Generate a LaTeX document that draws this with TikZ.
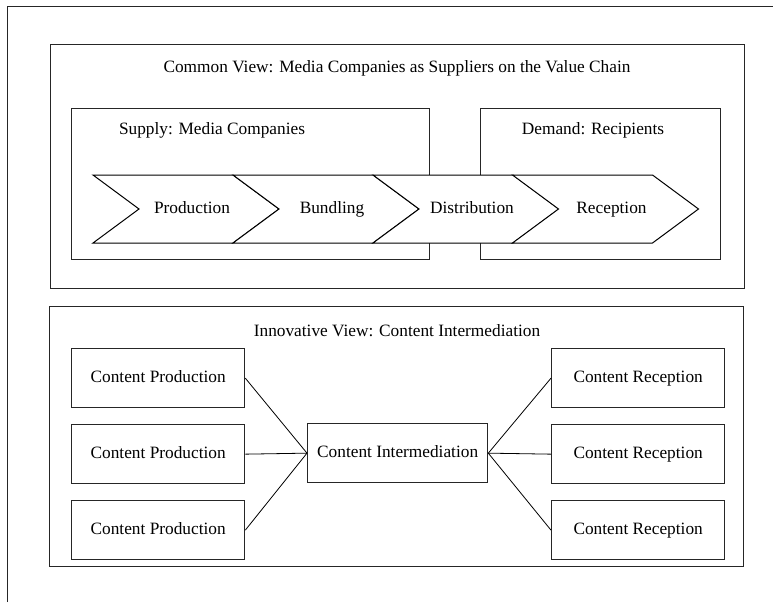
\documentclass[tikz,border=0pt]{standalone}
\usepackage{fontspec}
\setmainfont{Liberation Serif}
\begin{document}
\begin{tikzpicture}[x=1pt,y=-1pt,
  every node/.style={font=\fontsize{17.3}{20}\selectfont, inner sep=0pt},
  lbl/.style={text height=12.2pt, text depth=3.8pt},
  frame/.style={draw=black!85, line width=1.3pt},
  box/.style={draw=black!85, line width=1.3pt, fill=white, anchor=north west},
  chev/.style={draw=black, line width=1pt, fill=white},
  link/.style={draw=black, line width=0.8pt}]
\useasboundingbox (0,0) rectangle (773,602);
% outer frame (only top and left edges visible)
\coordinate (fa) at (7.5,602);
\coordinate (fb) at (7.5,6.5);
\coordinate (fc) at (773,6.5);
\draw[frame] (fa) -- (fb) -- (fc);
% top section
\node[box, minimum width=694pt, minimum height=244pt] (top) at (50,44) {};
\node[lbl] (toptitle) at (397,68) {Common View: Media Companies as Suppliers on the Value Chain};
\node[box, minimum width=358pt, minimum height=151pt] (supply) at (71,108) {};
\node[box, minimum width=240pt, minimum height=151pt] (demand) at (480,108) {};
\node[lbl] (supplyt) at (212,130) {Supply: Media Companies};
\node[lbl] (demandt) at (593,130) {Demand: Recipients};
% chevrons
\foreach \L/\name/\txt in {93/prod/Production, 233/bund/Bundling, 373/dist/Distribution, 512.5/rec/Reception}{
  \draw[chev] (\L,175) -- ++(140,0) -- ++(46,34) -- ++(-46,34) -- ++(-140,0) -- ++(46,-34) -- cycle;
  \node[lbl] (\name) at (\L+99,209) {\txt};
}
% bottom section
\node[box, minimum width=694pt, minimum height=260pt] (bottom) at (49,306) {};
\node[lbl] (bottomt) at (397,332) {Innovative View: Content Intermediation};
\node[box, minimum width=173pt, minimum height=59pt] (cp1) at (71,348) {};
\node[box, minimum width=173pt, minimum height=59pt] (cp2) at (71,424) {};
\node[box, minimum width=173pt, minimum height=59pt] (cp3) at (71,500) {};
\node[lbl] at (cp1.center) {Content Production};
\node[lbl] at (cp2.center) {Content Production};
\node[lbl] at (cp3.center) {Content Production};
\node[box, minimum width=180pt, minimum height=59pt] (ci) at (307,423) {};
\node[lbl] at (ci.center) {Content Intermediation};
\node[box, minimum width=173pt, minimum height=59pt] (cr1) at (551,348) {};
\node[box, minimum width=173pt, minimum height=59pt] (cr2) at (551,424) {};
\node[box, minimum width=173pt, minimum height=59pt] (cr3) at (551,500) {};
\node[lbl] at (cr1.center) {Content Reception};
\node[lbl] at (cr2.center) {Content Reception};
\node[lbl] at (cr3.center) {Content Reception};
\draw[link] (cp1.east) -- (ci.west);
\draw[link] (cp2.east) -- (ci.west);
\draw[link] (cp3.east) -- (ci.west);
\draw[link] (ci.east) -- (cr1.west);
\draw[link] (ci.east) -- (cr2.west);
\draw[link] (ci.east) -- (cr3.west);
\end{tikzpicture}
\end{document}
